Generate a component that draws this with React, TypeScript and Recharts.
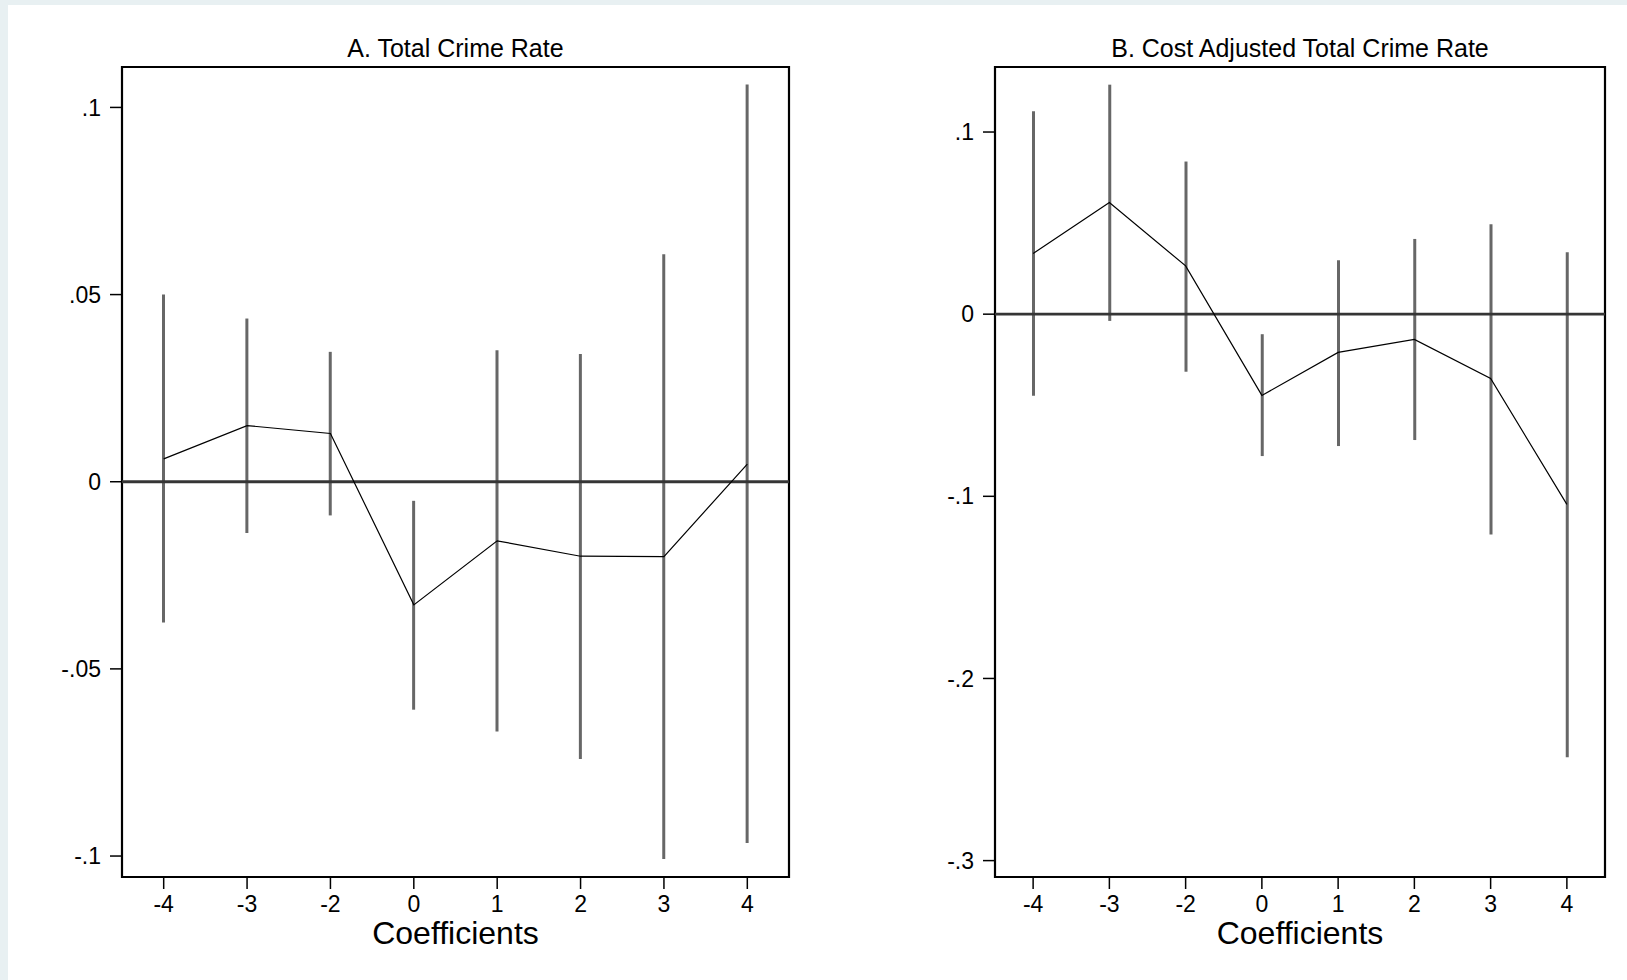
import React from "react"
import {
  ComposedChart, Bar, Line, XAxis, YAxis, ReferenceLine, ReferenceArea,
} from "recharts"

const FONT = "'Liberation Sans', Arial, Helvetica, sans-serif"

// event-time periods (no -1, it's the omitted year)
const periods = ["-4", "-3", "-2", "0", "1", "2", "3", "4"]

// A. total crime rate
const crimeEst = [0.0061, 0.015, 0.0129, -0.0329, -0.0158, -0.0199, -0.02, 0.0047]
const crimeLow = [-0.0376, -0.0137, -0.009, -0.0609, -0.0667, -0.0741, -0.1008, -0.0965]
const crimeHigh = [0.05, 0.0436, 0.0347, -0.0051, 0.0351, 0.0341, 0.0608, 0.1061]
const crimeTicks = [-0.1, -0.05, 0, 0.05, 0.1]
const crimeDomain: [number, number] = [-0.1056, 0.1108]

// B. cost adjusted total crime rate
const costEst = [0.0333, 0.0613, 0.0265, -0.0446, -0.021, -0.0139, -0.0353, -0.1044]
const costLow = [-0.0448, -0.0037, -0.0316, -0.0779, -0.0724, -0.0691, -0.1209, -0.2432]
const costHigh = [0.1114, 0.126, 0.0838, -0.011, 0.0296, 0.0413, 0.0494, 0.034]
const costTicks = [-0.3, -0.2, -0.1, 0, 0.1]
const costDomain: [number, number] = [-0.309, 0.1357]

const buildRows = (est: number[], low: number[], high: number[]) =>
  periods.map((p, i) => ({ period: p, est: est[i], ci: [low[i], high[i]] }))

// Stata style: ".05" instead of "0.05"
const fmtTick = (v: number) => (v === 0 ? "0" : String(v).replace("0.", "."))

const TICK_FONT = 23

function XTick({ x, y, payload }: any) {
  return (
    <text x={x} y={y} dy={16.3} textAnchor="middle" fontSize={TICK_FONT} fontFamily={FONT} fill="#000">
      {payload.value}
    </text>
  )
}

function YTick({ x, y, payload }: any) {
  return (
    <text x={x} y={y} dy={8.1} textAnchor="end" fontSize={TICK_FONT} fontFamily={FONT} fill="#000">
      {fmtTick(payload.value)}
    </text>
  )
}

interface PanelProps {
  title: string
  rows: { period: string; est: number; ci: number[] }[]
  ticks: number[]
  domain: [number, number]
  left: number
  width: number
  axisWidth: number
  rightMargin: number
}

function Panel({ title, rows, ticks, domain, left, width, axisWidth, rightMargin }: PanelProps) {
  const plotCenter = axisWidth + (width - axisWidth - rightMargin) / 2
  return (
    <div style={{ position: "absolute", left, top: 0, width, height: 980 }}>
      <div
        style={{
          position: "absolute", top: 36, left: plotCenter - 300, width: 600,
          textAlign: "center", fontFamily: FONT, fontSize: 25, lineHeight: "24px", color: "#000",
        }}
      >
        {title}
      </div>
      <ComposedChart
        width={width}
        height={980}
        data={rows}
        margin={{ top: 67, right: rightMargin, bottom: 36, left: 0 }}
      >
        <XAxis
          dataKey="period"
          interval={0}
          height={67}
          axisLine={false}
          tickLine={{ stroke: "#000", strokeWidth: 1.5 }}
          tickSize={12}
          tickMargin={7}
          tick={<XTick />}
          label={{ value: "Coefficients", position: "insideBottom", offset: 0, fontSize: 32, fill: "#000", fontFamily: FONT }}
        />
        <YAxis
          type="number"
          domain={domain}
          ticks={ticks}
          interval={0}
          width={axisWidth}
          axisLine={false}
          tickLine={{ stroke: "#000", strokeWidth: 1.5 }}
          tickSize={12}
          tickMargin={9}
          tick={<YTick />}
        />
        <ReferenceArea y1={domain[0]} y2={domain[1]} fill="none" stroke="#000" strokeWidth={2.2} />
        <ReferenceLine y={0} stroke="#353535" strokeWidth={2.8} />
        <Bar dataKey="ci" barSize={3} fill="#676767" isAnimationActive={false} />
        <Line
          type="linear"
          dataKey="est"
          stroke="#000"
          strokeWidth={1.2}
          dot={false}
          activeDot={false}
          isAnimationActive={false}
        />
      </ComposedChart>
    </div>
  )
}

export default function App() {
  return (
    <div style={{ position: "absolute", left: 0, top: 0, width: 1627, height: 980, background: "#e8f0f2" }}>
      <div style={{ position: "absolute", left: 8, top: 5, right: 0, bottom: 0, background: "#fff" }} />
      <Panel
        title="A. Total Crime Rate"
        rows={buildRows(crimeEst, crimeLow, crimeHigh)}
        ticks={crimeTicks}
        domain={crimeDomain}
        left={0}
        width={800}
        axisWidth={122}
        rightMargin={11}
      />
      <Panel
        title="B. Cost Adjusted Total Crime Rate"
        rows={buildRows(costEst, costLow, costHigh)}
        ticks={costTicks}
        domain={costDomain}
        left={810}
        width={817}
        axisWidth={185}
        rightMargin={22}
      />
    </div>
  )
}
